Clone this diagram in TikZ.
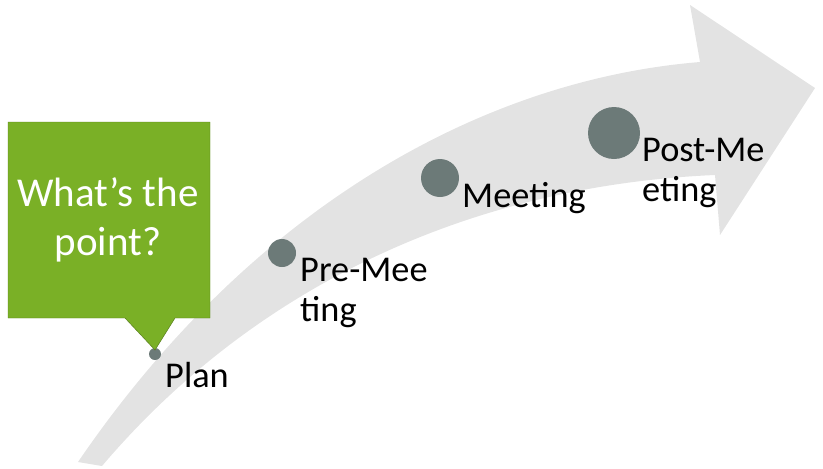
\documentclass[tikz,border=0pt]{standalone}
\usepackage{fontspec}
\setmainfont{Carlito}
\definecolor{callgreen}{RGB}{122,176,38}
\definecolor{dotgray}{RGB}{108,122,120}
\begin{document}
\begin{tikzpicture}[x=0.03cm,y=-0.03cm,style={font=\fontsize{31}{34}\selectfont}]
\useasboundingbox (0,0) rectangle (823,468);
%\draw[thick] (0,0) rectangle (823,468);
\fill[gray!22] (78,462) .. controls (250,210) and (480,80) .. (700,62) -- (690,5) -- (815,88) -- (720,235) -- (715,175) .. controls (480,185) and (260,280) .. (102,466) -- cycle;
\fill[dotgray] (155,354) circle (6);
\fill[dotgray] (282,253) circle (14);
\fill[dotgray] (440,178) circle (19);
\fill[dotgray] (614,133) circle (26);
\node[anchor=north west,align=left,inner sep=0] (plan) at (165,362) {Plan};
\node[anchor=north west,align=left,inner sep=0] (pre) at (300,258) {Pre-Mee\\ting};
\node[anchor=north west,align=left,inner sep=0] (meet) at (462,182) {Meeting};
\node[anchor=north west,align=left,inner sep=0] (post) at (642,138) {Post-Me\\eting};
\filldraw[fill=callgreen,draw=callgreen!70!black] (8,122) -- (210,122) -- (210,318) -- (175,318) -- (155,350) -- (125,318) -- (8,318) -- cycle;
\node[white,align=center,font=\fontsize{35}{42}\selectfont] (point) at (108,220) {What’s the\\point?};
\end{tikzpicture}
\end{document}
